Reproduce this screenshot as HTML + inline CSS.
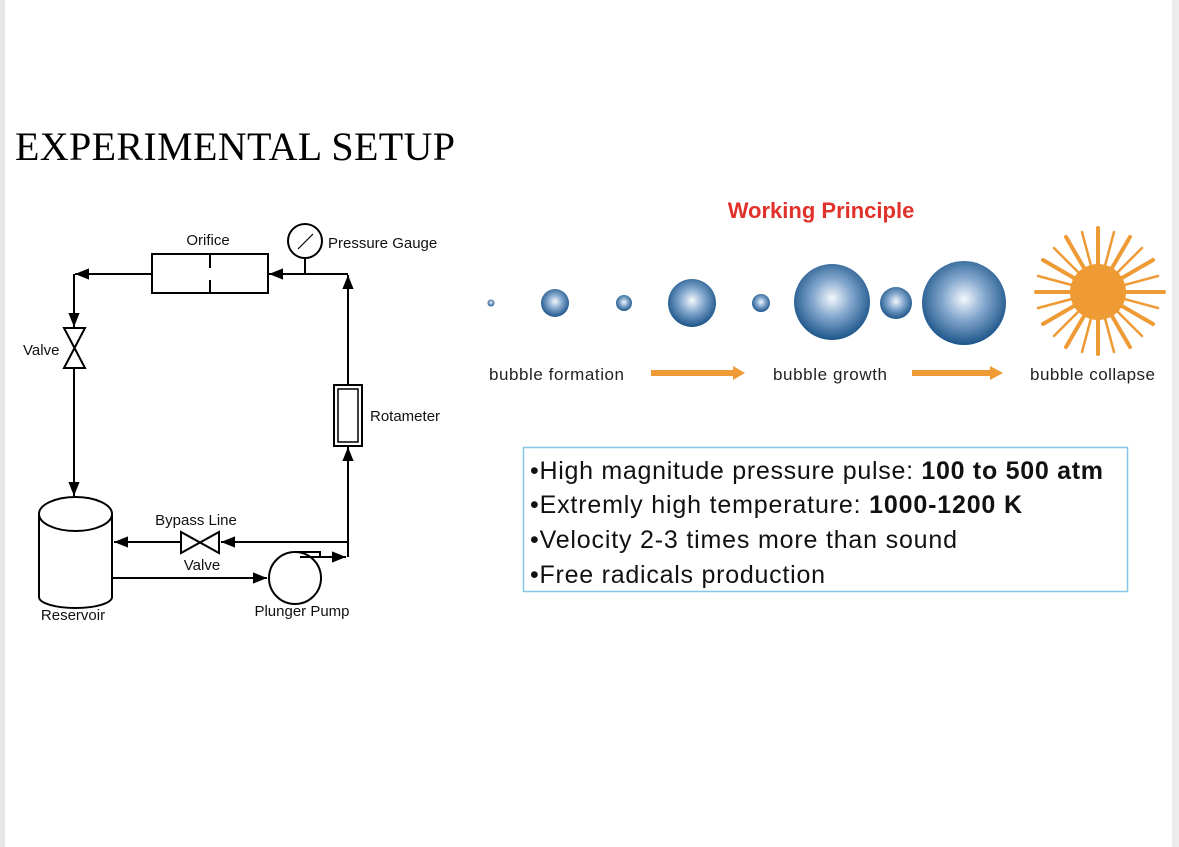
<!DOCTYPE html>
<html><head><meta charset="utf-8"><style>
html,body{margin:0;padding:0;background:#fff;}
body{width:1179px;height:847px;position:relative;overflow:hidden;}
</style></head><body>
<svg width="1179" height="847" viewBox="0 0 1179 847" xmlns="http://www.w3.org/2000/svg" style="position:absolute;left:0;top:0">
<defs>
<radialGradient id="bg" cx="50%" cy="45%" r="55%">
<stop offset="0" stop-color="#f4f8fc"/><stop offset="0.45" stop-color="#86a9cf"/><stop offset="1" stop-color="#1c5589"/>
</radialGradient>
<marker id="a" viewBox="0 0 10 10" refX="10" refY="5" markerWidth="7" markerHeight="7" orient="auto"><path d="M0,1 L10,5 L0,9 z" fill="#000"/></marker>
</defs>
<rect x="0" y="0" width="5" height="847" fill="#e6e6e6"/>
<rect x="1172" y="0" width="7" height="847" fill="#ececec"/>
<text x="15" y="160" font-family="Liberation Serif, serif" font-size="40" textLength="440" fill="#000">EXPERIMENTAL SETUP</text>

<g stroke="#000" stroke-width="2" fill="none">
<rect x="152" y="254" width="116" height="39"/>
<line x1="210" y1="254" x2="210" y2="268"/><line x1="210" y1="280" x2="210" y2="293"/>
<line x1="152" y1="274" x2="75" y2="274" marker-end="url(#a)"/>
<line x1="348" y1="274" x2="269" y2="274" marker-end="url(#a)"/>
<circle cx="305" cy="241" r="17"/>
<line x1="305" y1="258" x2="305" y2="274"/>
<line x1="298" y1="249" x2="313" y2="234" stroke-width="1.2"/>
<line x1="348" y1="385" x2="348" y2="275" marker-end="url(#a)"/>
<rect x="334" y="385" width="28" height="61"/>
<rect x="338" y="389" width="20" height="53" stroke-width="1.5"/>
<line x1="348" y1="543" x2="348" y2="447" marker-end="url(#a)"/>
<line x1="74" y1="274" x2="74" y2="327" marker-end="url(#a)"/>
<path d="M64,328 L85,328 L64,368 L85,368 Z"/>
<line x1="74" y1="368" x2="74" y2="496" marker-end="url(#a)"/>
<path d="M39,514 L39,597 A36.5,11 0 0 0 112,597 L112,514"/>
<ellipse cx="75.5" cy="514" rx="36.5" ry="17"/>
<line x1="348" y1="542" x2="221" y2="542" marker-end="url(#a)"/>
<path d="M181,532 L181,553 L219,532 L219,553 Z"/>
<line x1="181" y1="542" x2="114" y2="542" marker-end="url(#a)"/>
<line x1="112" y1="578" x2="267" y2="578" marker-end="url(#a)"/>
<circle cx="295" cy="578" r="26"/>
<path d="M295,552 L320,552 L320,556"/>
<line x1="300" y1="557" x2="346" y2="557" marker-end="url(#a)"/>
<line x1="348" y1="543" x2="348" y2="557"/>
</g>
<g font-family="Liberation Sans, sans-serif" font-size="15" fill="#111">
<text x="208" y="245" text-anchor="middle">Orifice</text>
<text x="328" y="248">Pressure Gauge</text>
<text x="23" y="355">Valve</text>
<text x="370" y="421">Rotameter</text>
<text x="196" y="525" text-anchor="middle">Bypass Line</text>
<text x="202" y="570" text-anchor="middle">Valve</text>
<text x="73" y="620" text-anchor="middle">Reservoir</text>
<text x="302" y="616" text-anchor="middle">Plunger Pump</text>
</g>

<text x="821" y="218" text-anchor="middle" font-family="Liberation Sans, sans-serif" font-weight="bold" font-size="22" fill="#e0312a">Working Principle</text>
<g fill="url(#bg)">
<circle cx="491" cy="303" r="3.5"/>
<circle cx="555" cy="303" r="14"/>
<circle cx="624" cy="303" r="8"/>
<circle cx="692" cy="303" r="24"/>
<circle cx="761" cy="303" r="9"/>
<circle cx="832" cy="302" r="38"/>
<circle cx="896" cy="303" r="16"/>
<circle cx="964" cy="303" r="42"/>
</g>
<g transform="translate(1098,292)" stroke="#ee9a35" stroke-linecap="round">
<circle r="28" fill="#ee9a35" stroke="none"/>
<g stroke-width="4">
<line x1="0" y1="0" x2="66" y2="0"/><line x1="0" y1="0" x2="-62" y2="0"/>
<line x1="0" y1="0" x2="0" y2="-64"/><line x1="0" y1="0" x2="0" y2="62"/>
<line x1="0" y1="0" x2="55" y2="-32"/><line x1="0" y1="0" x2="-55" y2="32"/>
<line x1="0" y1="0" x2="32" y2="-55"/><line x1="0" y1="0" x2="-32" y2="55"/>
<line x1="0" y1="0" x2="-55" y2="-32"/><line x1="0" y1="0" x2="55" y2="32"/>
<line x1="0" y1="0" x2="-32" y2="-55"/><line x1="0" y1="0" x2="32" y2="55"/>
</g>
<g stroke-width="2.5">
<line x1="0" y1="0" x2="60" y2="-16"/><line x1="0" y1="0" x2="-60" y2="16"/>
<line x1="0" y1="0" x2="16" y2="-60"/><line x1="0" y1="0" x2="-16" y2="60"/>
<line x1="0" y1="0" x2="-60" y2="-16"/><line x1="0" y1="0" x2="60" y2="16"/>
<line x1="0" y1="0" x2="-16" y2="-60"/><line x1="0" y1="0" x2="16" y2="60"/>
<line x1="0" y1="0" x2="44" y2="-44"/><line x1="0" y1="0" x2="-44" y2="44"/>
<line x1="0" y1="0" x2="-44" y2="-44"/><line x1="0" y1="0" x2="44" y2="44"/>
</g>
</g>
<g font-family="Liberation Sans, sans-serif" font-size="17" fill="#222">
<text x="489" y="380" textLength="135">bubble formation</text>
<text x="773" y="380" textLength="114">bubble growth</text>
<text x="1030" y="380" textLength="125">bubble collapse</text>
</g>
<g fill="#ee9a35">
<rect x="651" y="370" width="84" height="6"/><path d="M733,366 L745,373 L733,380 Z"/>
<rect x="912" y="370" width="80" height="6"/><path d="M990,366 L1003,373 L990,380 Z"/>
</g>
<rect x="523.5" y="447.5" width="604" height="144" fill="none" stroke="#86c5e6" stroke-width="1.5"/>
<g font-family="Liberation Sans, sans-serif" font-size="25" fill="#111">
<text x="530" y="479" textLength="573">•High magnitude pressure pulse: <tspan font-weight="bold">100 to 500 atm</tspan></text>
<text x="530" y="513" textLength="492">•Extremly high temperature: <tspan font-weight="bold">1000-1200 K</tspan></text>
<text x="530" y="548" textLength="427">•Velocity 2-3 times more than sound</text>
<text x="530" y="583" textLength="295">•Free radicals production</text>
</g>
</svg>
</body></html>
